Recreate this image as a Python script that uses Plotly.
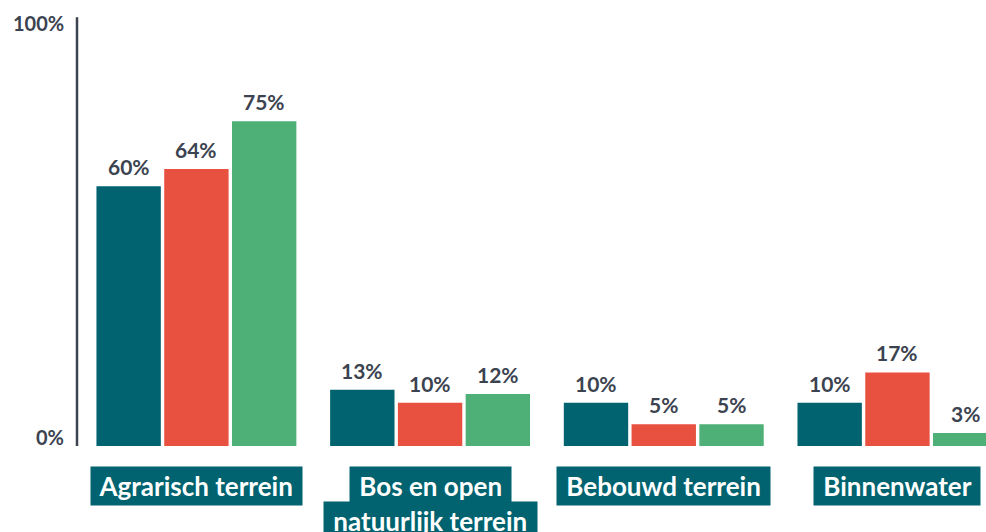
import plotly.graph_objects as go

categories = ["Agrarisch terrein", "Bos en open<br>natuurlijk terrein", "Bebouwd terrein", "Binnenwater"]
series_a = [60, 13, 10, 10]
series_b = [64, 10, 5, 17]
series_c = [75, 12, 5, 3]
tick_values = [0, 100]
tick_labels = ["0%", "100%"]

TEAL = "#00636F"
RED = "#E85140"
GREEN = "#4EB077"
TEXT = "#3C4350"
FONT = "Lato"

fig = go.Figure()
series = [series_a, series_b, series_c]
colors = [TEAL, RED, GREEN]
for vals, col in zip(series, colors):
    fig.add_trace(go.Bar(x=list(range(len(categories))), y=vals, marker_color=col,
                         marker_line_width=0, hoverinfo="skip"))

# value labels
slot_px = 67.8
for si, vals in enumerate(series):
    for ci, v in enumerate(vals):
        fig.add_annotation(x=ci, y=v, xref="x", yref="y", text=f"{v}%", showarrow=False,
                           xanchor="center", yanchor="bottom", xshift=(si - 1) * slot_px, yshift=5,
                           font=dict(family=FONT, size=21, color=TEXT, weight="bold"))

# category labels (one box per line)
for ci, cat in enumerate(categories):
    for li, line in enumerate(cat.split("<br>")):
        fig.add_annotation(x=ci, y=0, xref="x", yref="paper", text="&nbsp;" + line + "&nbsp;",
                           showarrow=False,
                           xanchor="center", yanchor="top", yshift=-20 - li * 35,
                           bgcolor=TEAL, borderpad=3,
                           font=dict(family=FONT, size=26, color="white", weight="bold"))

# y tick labels
for tv, tl in zip(tick_values, tick_labels):
    fig.add_annotation(x=0, y=tv, xref="paper", yref="y", text=tl, showarrow=False,
                       xanchor="right", yanchor="bottom" if tv == 0 else "top",
                       xshift=-11, yshift=(-5 if tv == 0 else 4),
                       font=dict(family=FONT, size=20, color=TEXT, weight="bold"))

# y axis line
fig.add_shape(type="line", xref="paper", yref="y", x0=0, x1=0, y0=-0.2, y1=99,
              line=dict(color=TEXT, width=2.5))

fig.update_layout(
    width=986, height=532,
    margin=dict(l=77, r=0, t=13, b=86),
    paper_bgcolor="white", plot_bgcolor="white",
    barmode="group", bargap=0.13, bargroupgap=0.05,
    showlegend=False,
    xaxis=dict(range=[-0.511, 3.379], showticklabels=False, showgrid=False, zeroline=False,
               showline=False, ticks=""),
    yaxis=dict(range=[0, 100], showticklabels=False, showgrid=False, zeroline=False,
               showline=False, ticks=""),
)

fig.write_html("out.html", config={"displayModeBar": False},
               post_script="document.body.style.margin='0';document.body.style.overflow='hidden';")
